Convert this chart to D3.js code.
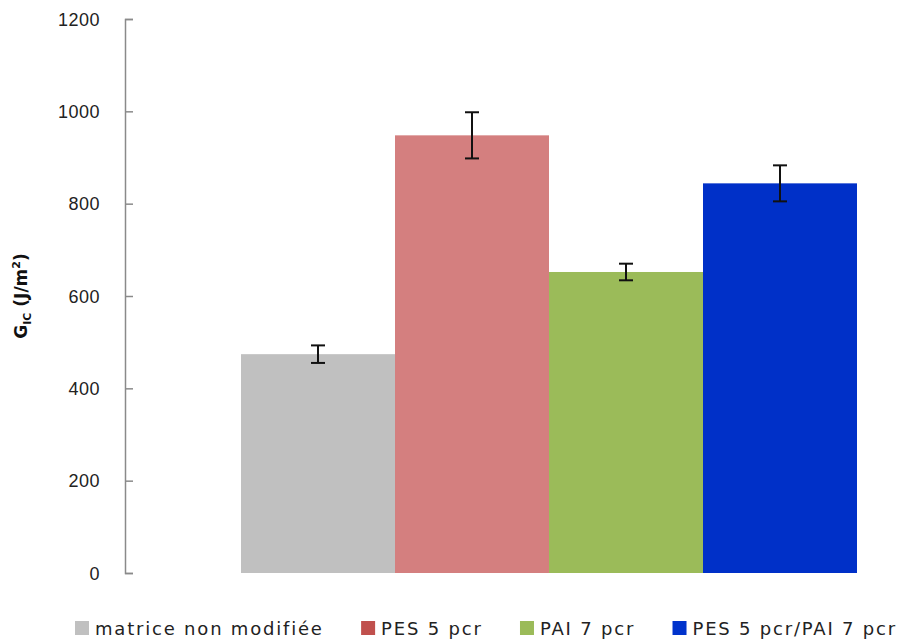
<!DOCTYPE html>
<html lang="fr">
<head>
<meta charset="UTF-8">
<title>GIC</title>
<script src="https://d3js.org/d3.v7.min.js"></script>
<style>
    body { margin: 0; background: #fff; }
    svg { font-family: 'DejaVu Sans', Verdana, sans-serif; }
    .axis path, .axis line { stroke: #8a8a8a; stroke-width: 1.5px; }
    .axis text { font-size: 18px; fill: #222; letter-spacing: 0.5px; }
    .legend text { font-size: 18px; fill: #222; letter-spacing: 1.8px; }
</style>
</head>
<body>
<svg width="912" height="639"></svg>
<script>
    const series = ["matrice non modifiée", "PES 5 pcr", "PAI 7 pcr", "PES 5 pcr/PAI 7 pcr"];
    const values = [474, 948, 652, 844];
    const errors = [19, 50, 18, 39];
    const barColors = ["#c0c0c0", "#d47f7f", "#9bbb59", "#0030c8"];
    const legendColors = ["#c0c0c0", "#c0504d", "#9bbb59", "#0033cc"];
    const yTicks = [0, 200, 400, 600, 800, 1000, 1200];

    const svg = d3.select("svg");
    const axisX = 125;

    const y = d3.scaleLinear().domain([0, 1200]).range([573, 19]);
    const x = d3.scaleBand().domain(series).range([241, 857]).padding(0);

    // bars
    svg.selectAll("rect.bar")
        .data(series)
        .enter()
        .append("rect")
        .attr("class", "bar")
        .attr("x", d => x(d))
        .attr("width", x.bandwidth())
        .attr("y", (d, i) => y(values[i]))
        .attr("height", (d, i) => y(0) - y(values[i]))
        .attr("fill", (d, i) => barColors[i]);

    // error bars
    const cap = 7;
    const err = svg.append("g").attr("stroke", "#111").attr("stroke-width", 2);
    series.forEach((s, i) => {
        const cx = x(s) + x.bandwidth() / 2;
        const top = y(values[i] + errors[i]);
        const bot = y(values[i] - errors[i]);
        err.append("line").attr("x1", cx).attr("x2", cx).attr("y1", top).attr("y2", bot);
        err.append("line").attr("x1", cx - cap).attr("x2", cx + cap).attr("y1", top).attr("y2", top);
        err.append("line").attr("x1", cx - cap).attr("x2", cx + cap).attr("y1", bot).attr("y2", bot);
    });

    // y axis
    svg.append("g")
        .attr("class", "axis")
        .attr("transform", `translate(${axisX},0)`)
        .call(d3.axisLeft(y).tickValues(yTicks).tickFormat(d3.format("d")).tickSize(-8).tickPadding(25))
        .call(g => g.selectAll("text").attr("dy", "0.35em"));

    // y title
    const title = svg.append("text")
        .attr("transform", "translate(27,296) rotate(-90)")
        .attr("text-anchor", "middle")
        .attr("font-weight", "bold")
        .attr("font-size", 17)
        .attr("fill", "#111");
    title.append("tspan").text("G");
    title.append("tspan").attr("font-size", 11).attr("dy", 4).text("IC");
    title.append("tspan").attr("dy", -4).text(" (J/m");
    title.append("tspan").attr("font-size", 11).attr("dy", -7).text("2");
    title.append("tspan").attr("dy", 7).text(")");

    // legend: spread items evenly between x=75 and x=897
    const legend = svg.append("g").attr("class", "legend");
    const texts = series.map(s => legend.append("text").attr("y", 635).text(s));
    const widths = texts.map(t => t.node().getComputedTextLength());
    const gap = (897 - 75 - series.length * 20 - d3.sum(widths)) / (series.length - 1);
    let lx = 75;
    series.forEach((s, i) => {
        legend.append("rect")
            .attr("x", lx).attr("y", 621)
            .attr("width", 14).attr("height", 14)
            .attr("fill", legendColors[i]);
        texts[i].attr("x", lx + 20);
        lx += 20 + widths[i] + gap;
    });
</script>
</body>
</html>
